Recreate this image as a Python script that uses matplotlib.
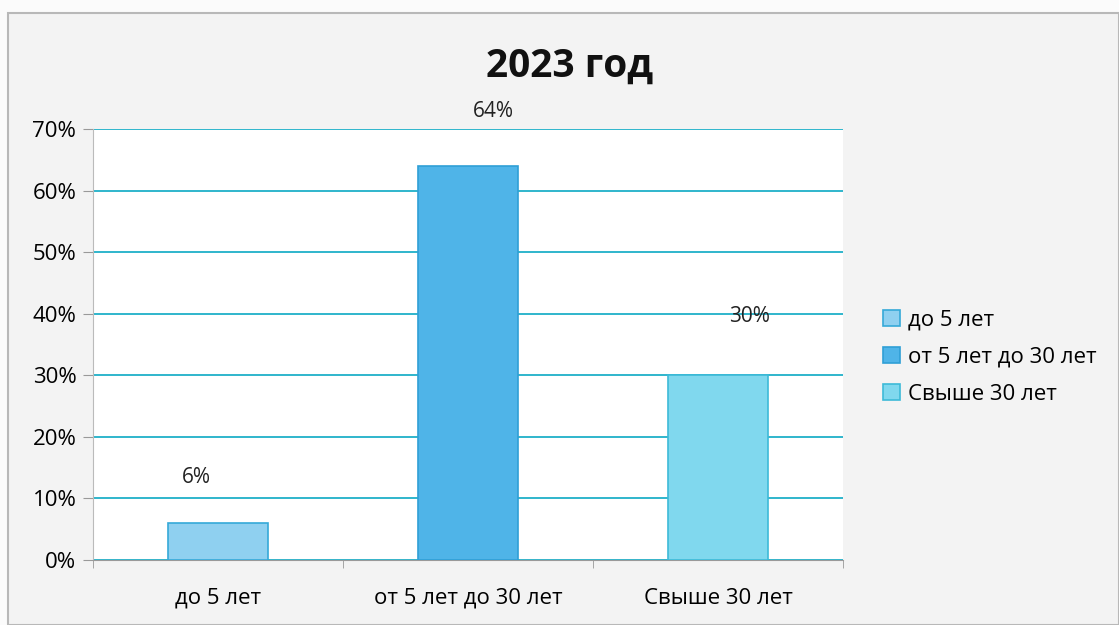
import matplotlib.pyplot as plt
from matplotlib.patches import Rectangle
from matplotlib.ticker import FuncFormatter, MultipleLocator

categories = ["до 5 лет", "от 5 лет до 30 лет", "Свыше 30 лет"]
values = [6, 64, 30]
labels = ["6%", "64%", "30%"]
title = "2023 год"

colors = ["#8fd0f0", "#4fb4e8", "#80d8ee"]
edges = ["#35a9d8", "#2f9fd6", "#3dbad8"]
# label offsets from bar top, in pixels (labels were hand-moved in the original)
label_offsets = [(-22, 46), (25, 54), (32, 59)]

plt.rcParams["font.family"] = ["Open Sans", "DejaVu Sans"]

fig = plt.figure(figsize=(11.19, 6.25), dpi=100)
fig.patch.set_facecolor("#fbfbfb")
fig.patches.append(Rectangle((8 / 1119, 0), 1 - 8 / 1119, 1 - 13 / 625,
                             transform=fig.transFigure, facecolor="#f3f3f3",
                             edgecolor="#b8b8b8", linewidth=1.5, zorder=-10))

ax = fig.add_axes([93 / 1119, 65 / 625, 750 / 1119, 431 / 625])
ax.set_facecolor("white")
x = range(len(categories))
bars = ax.bar(x, values, width=0.4, color=colors, edgecolor=edges, linewidth=1.2,
              label=categories, zorder=3)

for b, lab, off in zip(bars, labels, label_offsets):
    ax.annotate(lab, (b.get_x() + b.get_width() / 2, b.get_height()),
                xytext=(off[0] * 0.72, off[1] * 0.72), textcoords="offset points",
                ha="center", va="center", fontsize=15, color="#222222")

ax.set_xlim(-0.5, 2.5)
ax.set_ylim(0, 70)
ax.yaxis.set_major_locator(MultipleLocator(10))
ax.yaxis.set_major_formatter(FuncFormatter(lambda v, p: f"{v:.0f}%"))
ax.grid(axis="y", color="#2fb5cc", linewidth=1.4, zorder=1)
ax.set_xticks(list(x))
ax.set_xticklabels(categories)
ax.set_xticks([-0.5, 0.5, 1.5, 2.5], minor=True)
ax.tick_params(axis="x", which="major", length=0, labelsize=16, pad=20)
ax.tick_params(axis="x", which="minor", length=6, color="#999999")
ax.tick_params(axis="y", length=7, color="#999999", labelsize=16, pad=5)
for side in ["top", "right"]:
    ax.spines[side].set_visible(False)
ax.spines["left"].set_color("#bbbbbb")
ax.spines["bottom"].set_color("#999999")

fig.text(570 / 1119, 1 - 66 / 625, title, ha="center", va="center",
         fontsize=28, fontweight="bold", color="#111111")

ax.legend(loc="center left", bbox_to_anchor=(1.027, 0.47), frameon=False,
          fontsize=16, handlelength=0.75, handleheight=0.75, handletextpad=0.35,
          labelspacing=0.72)

fig.savefig("out.png", dpi=100)
